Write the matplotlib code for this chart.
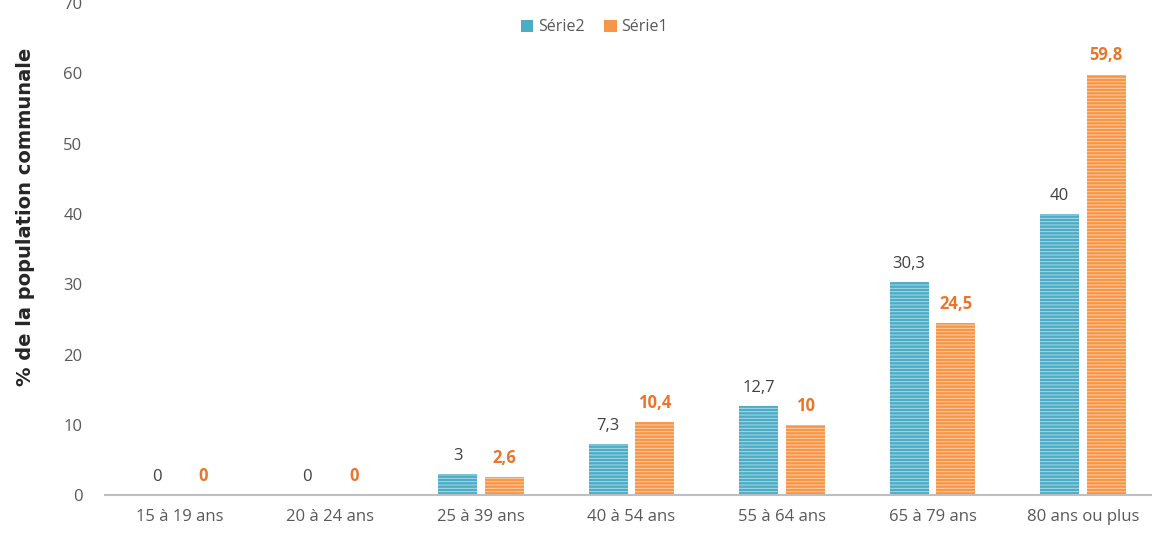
import matplotlib.pyplot as plt
import numpy as np

plt.rcParams['hatch.linewidth'] = 0.7

categories = ["15 à 19 ans", "20 à 24 ans", "25 à 39 ans", "40 à 54 ans",
              "55 à 64 ans", "65 à 79 ans", "80 ans ou plus"]
serie2 = [0, 0, 3, 7.3, 12.7, 30.3, 40]
serie1 = [0, 0, 2.6, 10.4, 10, 24.5, 59.8]
labels2 = ["0", "0", "3", "7,3", "12,7", "30,3", "40"]
labels1 = ["0", "0", "2,6", "10,4", "10", "24,5", "59,8"]

blue = "#4BACC6"
orange = "#F79646"
gray = "#595959"

fig = plt.figure(figsize=(11.52, 5.34), dpi=100)
ax = fig.add_axes([0.0909, 0.0721, 0.9145, 0.922])

x = np.arange(len(categories))
w = 0.26
b2 = ax.bar(x - 0.155, serie2, w, color=blue, linewidth=0, label="Série2")
b1 = ax.bar(x + 0.155, serie1, w, color=orange, linewidth=0, label="Série1")
# light horizontal stripes on top of the bars
ax.bar(x - 0.155, serie2, w, facecolor="none", edgecolor=(1, 1, 1, 0.55),
       linewidth=0, hatch="-----")
ax.bar(x + 0.155, serie1, w, facecolor="none", edgecolor=(1, 1, 1, 0.55),
       linewidth=0, hatch="-----")

for i in range(len(categories)):
    ax.text(x[i] - 0.155, serie2[i] + 1.5, labels2[i], ha="center", va="bottom",
            fontsize=12, color="#404040", family="Open Sans")
    ax.text(x[i] + 0.155, serie1[i] + 1.5, labels1[i], ha="center", va="bottom",
            fontsize=12, color="#E8762B", family="Open Sans", fontweight="bold")

ax.set_xlim(-0.5, len(categories) - 0.5)
ax.set_ylim(0, 70)
ax.set_yticks(range(0, 71, 10))
ax.set_xticks(x)
ax.set_xticklabels(categories, family="Open Sans", fontsize=12, color=gray)
for t in ax.get_yticklabels():
    t.set_family("Open Sans")
    t.set_fontsize(12)
    t.set_color(gray)
ax.tick_params(axis="both", length=0)
ax.tick_params(axis="y", pad=16)
ax.tick_params(axis="x", pad=10)

for s in ["top", "right", "left"]:
    ax.spines[s].set_visible(False)
ax.spines["bottom"].set_color("#BFBFBF")
ax.spines["bottom"].set_linewidth(1.5)

ax.set_ylabel("% de la population communale", fontsize=14, fontweight="bold",
              color="#262626")
ax.yaxis.set_label_coords(-0.066, 0.565)

fig.legend(handles=[b2, b1], loc="center", bbox_to_anchor=(0.516, 0.949),
           ncol=2, frameon=False, prop={"family": "Open Sans", "size": 11.5},
           labelcolor=gray, handlelength=0.8, handleheight=0.8,
           handletextpad=0.3, columnspacing=1.2)

fig.savefig("out.png", dpi=100)
